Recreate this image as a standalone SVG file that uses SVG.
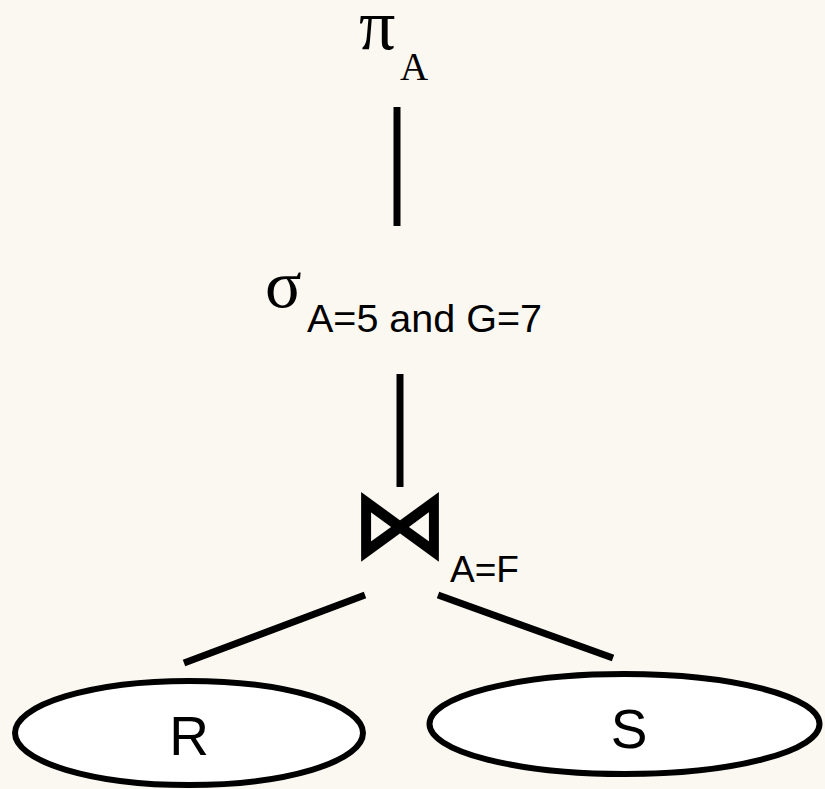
<svg xmlns="http://www.w3.org/2000/svg" width="825" height="789" viewBox="0 0 825 789">
<style>
.serif{font-family:"Liberation Serif","Times New Roman",serif;fill:#000}
.sans{font-family:"Liberation Sans",Arial,sans-serif;fill:#000}
.edge{stroke:#000;stroke-width:7;fill:none}
.rel{fill:#fff;stroke:#000;stroke-width:6}
</style>
<rect width="825" height="789" fill="#fbf8f2"/>
<g id="connectors">
<line class="edge" x1="397" y1="107" x2="397" y2="226"/>
<line class="edge" x1="400" y1="374" x2="400" y2="487"/>
<line class="edge" stroke-width="6" x1="365" y1="595" x2="184" y2="663"/>
<line class="edge" stroke-width="6" x1="438" y1="595" x2="613" y2="658"/>
</g>
<g id="project">
<text class="serif" x="359" y="49" font-size="72">π</text>
<text class="serif" x="400" y="80" font-size="39">A</text>
</g>
<g id="select">
<text class="serif" x="265" y="307" font-size="68">σ</text>
<text class="sans" x="307" y="332" font-size="39.5">A=5 and G=7</text>
</g>
<g id="join">
<text x="400" y="557" font-size="96" text-anchor="middle" style="font-family:'DejaVu Sans',sans-serif" fill="#000" stroke="#000" stroke-width="2">⋈</text>
<text class="sans" x="450" y="582" font-size="37">A=F</text>
</g>
<g id="R">
<ellipse class="rel" cx="189" cy="733" rx="174" ry="52"/>
<text class="sans" x="189" y="755" font-size="55" text-anchor="middle">R</text>
</g>
<g id="S">
<ellipse class="rel" cx="624.5" cy="724" rx="195" ry="50"/>
<text class="sans" x="629" y="748" font-size="55" text-anchor="middle">S</text>
</g>
</svg>
